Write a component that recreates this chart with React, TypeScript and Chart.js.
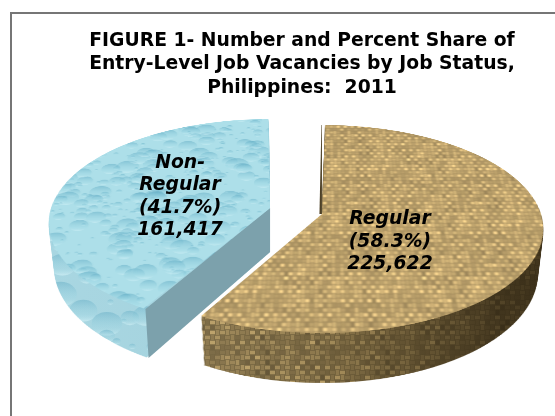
import React, { useEffect, useRef } from "react";
import { Chart, registerables } from "chart.js";

Chart.register(...registerables);

// ---- data ----
const categories = ["Regular", "Non-Regular"];
const shares = [58.3, 41.7];
const vacancies = [225622, 161417];
const titleLines = [
  "FIGURE 1- Number and Percent Share of",
  "Entry-Level Job Vacancies by Job Status,",
  "Philippines:  2011",
];
const baseColors = ["#c4a770", "#a9dce8"];

// ---- look ----
const FONT = "'DejaVu Sans', Verdana, sans-serif";
const W = 555;
const H = 416;
const SS = 2;
const EXPLODE = 60;
const PIE_CX = 296;
const PIE_CY = 211;
const EXPLODE_SX = 1.79;
const EXPLODE_SY = 0.77;
const PERSP_A = 101.9;
const PERSP_C = -0.144;
const PERSP_W = 219;
const DEPTH = 44;
const LABEL_NUDGE = [
  [68, 28],
  [-90, -11.5],
];
const LINE_H = 22.5;

const hash = (n: number) => {
  const s = Math.sin(n * 12.9898 + 4.1414) * 43758.5453;
  return s - Math.floor(s);
};

function makeCanvas(w: number, h: number) {
  const c = document.createElement("canvas");
  c.width = w;
  c.height = h;
  return c;
}

function shade(r: number, g: number, b: number, f: number) {
  return `rgb(${Math.min(255, r * f) | 0},${Math.min(255, g * f) | 0},${Math.min(255, b * f) | 0})`;
}

// Blur that wraps round: blur a 3x3 mosaic of the tile as one image, then keep the middle.
function softened(c: HTMLCanvasElement, blur: number) {
  const mosaic = makeCanvas(c.width * 3, c.height * 3);
  const m = mosaic.getContext("2d")!;
  for (let i = 0; i < 3; i++) {
    for (let j = 0; j < 3; j++) m.drawImage(c, i * c.width, j * c.height);
  }
  const out = makeCanvas(c.width, c.height);
  const o = out.getContext("2d")!;
  o.filter = `blur(${blur}px)`;
  o.drawImage(mosaic, -c.width, -c.height);
  return out;
}

function burlapTile(cw: number, ch: number, nx: number, ny: number, rgb: number[], contrast: number, blur: number) {
  const c = makeCanvas(cw * nx, ch * ny);
  const x = c.getContext("2d")!;
  x.fillStyle = shade(rgb[0], rgb[1], rgb[2], 0.82);
  x.fillRect(0, 0, c.width, c.height);
  for (let j = 0; j < ny; j++) {
    for (let i = 0; i < nx; i++) {
      const over = (i + j) % 2 === 0;
      const rowV = 1 + (hash(j * 7 + 11) - 0.5) * 0.12 * contrast;
      const colV = 1 + (hash(i * 13 + 29) - 0.5) * 0.12 * contrast;
      const v = (1 + (hash(i * 31 + j * 17) - 0.5) * 0.3 * contrast) * (over ? rowV : colV);
      x.fillStyle = shade(rgb[0], rgb[1], rgb[2], (over ? 1 + 0.1 * contrast : 1 - 0.04 * contrast) * v);
      const px = i * cw;
      const py = j * ch;
      if (over) x.fillRect(px, py + ch * 0.14, cw, ch * 0.72);
      else x.fillRect(px + cw * 0.14, py, cw * 0.72, ch);
    }
  }
  return softened(c, blur);
}

function waterTile(
  size: number,
  sxx: number,
  syy: number,
  count: number,
  rmin: number,
  rmax: number,
  base: string,
  strength: number
) {
  const c = makeCanvas(size, size);
  const x = c.getContext("2d")!;
  x.fillStyle = base;
  x.fillRect(0, 0, size, size);
  for (let k = 0; k < count; k++) {
    const px = hash(k * 3 + 1) * size;
    const py = hash(k * 3 + 2) * size;
    const r = rmin + (rmax - rmin) * Math.pow(hash(k * 3 + 3), 2.6);
    for (const dx of [-size, 0, size]) {
      for (const dy of [-size, 0, size]) {
        const ex = px + dx;
        const ey = py + dy;
        const g = x.createLinearGradient(ex, ey - r * syy, ex, ey + r * syy);
        g.addColorStop(0, `rgba(95,170,195,${0.5 * strength})`);
        g.addColorStop(0.65, `rgba(150,212,226,${0.22 * strength})`);
        g.addColorStop(1, `rgba(215,245,250,${0.55 * strength})`);
        x.fillStyle = g;
        x.beginPath();
        x.ellipse(ex, ey, r * sxx, r * syy, 0, 0, Math.PI * 2);
        x.fill();
      }
    }
  }
  return softened(c, 0.7);
}

function warp(
  dst: CanvasRenderingContext2D,
  src: HTMLCanvasElement,
  cx: number,
  cy: number,
  r: number,
  Vx: number,
  Vy: number,
  a: number,
  A: number
) {
  const c = PERSP_C;
  const top = -a / (1 - c);
  const bottom = a / (1 + c);
  for (let yy = Math.floor(Vy + top) - 2; yy <= Math.ceil(Vy + bottom) + 2; yy++) {
    const yp = yy + 0.5 - Vy;
    const v = yp / (a - c * yp);
    if (Math.abs(v) > 1.03) continue;
    const den = 1 + c * v;
    const k = A / den / r / SS;
    const dv = a / ((a - c * yp) * (a - c * yp));
    const h = dv * r * SS;
    dst.drawImage(src, 0, cy + v * r * SS - h / 2, src.width, h, Vx - cx * k, yy, src.width * k, 1);
  }
}

const pie3d = {
  id: "pie3d",
  beforeDatasetsDraw(chart: any) {
    const ctx: CanvasRenderingContext2D = chart.ctx;
    const arcs = chart.getDatasetMeta(0).data;
    const topPatterns = [
      ctx.createPattern(burlapTile(5, 10, 32, 16, [198, 170, 114], 1, 0.9), "repeat")!,
      ctx.createPattern(waterTile(360, 1.25, 1.5, 520, 1.5, 12, "#addfe9", 1), "repeat")!,
    ];
    const wallPatterns = [
      ctx.createPattern(burlapTile(5, 5, 24, 24, [146, 126, 84], 1.3, 0.7), "repeat")!,
      ctx.createPattern(waterTile(140, 1.1, 0.85, 60, 2.5, 17, "#a1d3df", 1.1), "repeat")!,
    ];
    const scene: any[] = arcs.map((arc: any, i: number) => {
      const offset = arc.options.offset || 0;
      const o = offset / 4;
      const half = (arc.startAngle + arc.endAngle) / 2;
      const fix = 1 - Math.sin(Math.min(Math.PI, arc.circumference));
      const r = arc.outerRadius + o * fix;
      const Vx = PIE_CX + Math.cos(half) * o * EXPLODE_SX;
      const Vy = PIE_CY + Math.sin(half) * o * EXPLODE_SY;
      const size = Math.ceil((r + 6) * 2 * SS);
      const src = makeCanvas(size, size);
      const sx = src.getContext("2d")!;
      const cx = size / 2;
      const cy = size / 2;
      sx.setTransform(SS, 0, 0, SS, cx - (arc.x + Math.cos(half) * o) * SS, cy - (arc.y + Math.sin(half) * o) * SS);
      const m = new DOMMatrix();
      const p = topPatterns[i];
      p.setTransform(m.scale(1 / SS, 1 / SS));
      const proxy = Object.create(arc);
      proxy.options = { ...arc.options, backgroundColor: p, borderWidth: 0 };
      proxy.draw(sx);
      return { arc, i, r, Vx, Vy, src, cx, cy };
    });

    const project = (s: any, u: number, v: number, t: number) => {
      const a = PERSP_A * (1 + 0.05 * t);
      const A = PERSP_W * (1 - 0.025 * t);
      const den = 1 + PERSP_C * v;
      return [s.Vx + (A * u) / den, s.Vy + DEPTH * t + (a * v) / den];
    };

    // far slice first
    [1, 0].forEach((idx) => {
      const s = scene[idx];
      const wall = makeCanvas(W, H);
      const wx = wall.getContext("2d")!;
      for (let l = DEPTH; l >= 1; l--) {
        const t = l / DEPTH;
        warp(wx, s.src, s.cx, s.cy, s.r, s.Vx, s.Vy + DEPTH * t, PERSP_A * (1 + 0.05 * t), PERSP_W * (1 - 0.025 * t));
      }
      wx.globalCompositeOperation = "source-in";
      wx.fillStyle = wallPatterns[idx];
      wx.fillRect(0, 0, W, H);
      wx.globalCompositeOperation = "source-atop";
      const g = wx.createLinearGradient(s.Vx - PERSP_W, 0, s.Vx + PERSP_W, 0);
      if (idx === 0) {
        g.addColorStop(0.22, "rgba(60,45,15,0)");
        g.addColorStop(0.5, "rgba(60,45,15,0.18)");
        g.addColorStop(0.72, "rgba(50,38,15,0.5)");
        g.addColorStop(0.9, "rgba(40,30,12,0.72)");
        g.addColorStop(1, "rgba(40,30,12,0.78)");
      } else {
        g.addColorStop(0, "rgba(255,255,255,0.08)");
        g.addColorStop(1, "rgba(60,120,140,0.18)");
      }
      wx.fillStyle = g;
      wx.fillRect(0, 0, W, H);
      ctx.drawImage(wall, 0, 0);

      const su = Math.cos(s.arc.startAngle);
      const sv = Math.sin(s.arc.startAngle);
      if (idx === 1) {
        // cut face that looks at the viewer
        const p1 = project(s, 0, 0, 0);
        const p2 = project(s, su, sv, 0);
        const p3 = project(s, su, sv, 1);
        const p4 = project(s, 0, 0, 1);
        ctx.fillStyle = "#7ca1ac";
        ctx.beginPath();
        ctx.moveTo(p1[0], p1[1]);
        ctx.lineTo(p2[0], p2[1]);
        ctx.lineTo(p3[0], p3[1]);
        ctx.lineTo(p4[0], p4[1]);
        ctx.closePath();
        ctx.fill();
      } else {
        // thin dark strip of the far cut face
        const p1 = project(s, su, sv, 0);
        const p2 = project(s, 0, 0, 0);
        ctx.fillStyle = "#4d4026";
        ctx.beginPath();
        ctx.moveTo(p1[0], p1[1]);
        ctx.lineTo(p2[0], p2[1]);
        ctx.lineTo(p2[0] - 2.5, p2[1]);
        ctx.lineTo(p1[0] - 0.5, p1[1]);
        ctx.closePath();
        ctx.fill();
      }
      warp(ctx, s.src, s.cx, s.cy, s.r, s.Vx, s.Vy, PERSP_A, PERSP_W);
    });

    // labels
    ctx.save();
    ctx.font = `italic bold 18.8px ${FONT}`;
    ctx.fillStyle = "#000";
    ctx.textAlign = "center";
    ctx.textBaseline = "middle";
    scene.forEach((s) => {
      const parts = categories[s.i].includes("-")
        ? categories[s.i].replace("-", "-\n").split("\n")
        : [categories[s.i]];
      const lines = [...parts, `(${shares[s.i].toFixed(1)}%)`, vacancies[s.i].toLocaleString("en-US")];
      const x = s.Vx + LABEL_NUDGE[s.i][0];
      const y = s.Vy + LABEL_NUDGE[s.i][1];
      lines.forEach((ln, k) => ctx.fillText(ln, x, y + (k - (lines.length - 1) / 2) * LINE_H));
    });
    ctx.restore();
    return false;
  },
};

export default function App() {
  const ref = useRef<HTMLCanvasElement>(null);
  useEffect(() => {
    const chart = new Chart(ref.current!, {
      type: "pie",
      data: {
        labels: categories,
        datasets: [
          {
            data: vacancies,
            backgroundColor: baseColors,
            borderWidth: 0,
            offset: EXPLODE,
          },
        ],
      },
      options: {
        responsive: false,
        animation: false,
        layout: { padding: { left: 49 } },
        plugins: {
          legend: { display: false },
          tooltip: { enabled: false },
          title: {
            display: true,
            text: titleLines,
            color: "#000",
            font: { family: FONT, size: 18.75, weight: "bold", lineHeight: 1.23 },
            padding: { top: 30, bottom: 10 },
          },
        },
      },
      plugins: [pie3d],
    } as any);
    return () => chart.destroy();
  }, []);
  return (
    <div style={{ position: "absolute", left: 0, top: 0, width: W, height: H, overflow: "hidden", background: "#fff" }}>
      <div
        style={{
          position: "absolute",
          left: 10,
          top: 12,
          width: 800,
          height: 800,
          border: "2px solid #767676",
        }}
      />
      <canvas ref={ref} width={W} height={H} style={{ position: "absolute", left: 0, top: 0 }} />
    </div>
  );
}
